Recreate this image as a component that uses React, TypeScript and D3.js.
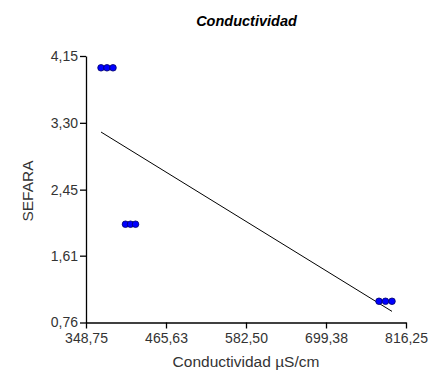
import * as d3 from 'd3';
import React, { useEffect, useRef } from 'react';

// Conductividad (µS/cm) vs SEFARA
const conductividad = [370.7, 379.4, 388.2, 406.4, 413.8, 421.1, 776.8, 786.3, 795.8];
const sefara = [4.0, 4.0, 4.0, 2.01, 2.01, 2.01, 1.03, 1.03, 1.03];

const xTicks = [348.75, 465.63, 582.5, 699.38, 816.25];
const yTicks = [0.76, 1.61, 2.45, 3.3, 4.15];

const width = 429;
const height = 382;

const App: React.FC = () => {
  const svgRef = useRef<SVGSVGElement>(null);

  useEffect(() => {
    if (!svgRef.current) return;
    d3.select(svgRef.current).selectAll('*').remove();

    const margin = { top: 56, right: 23, bottom: 59.5, left: 86 };
    const innerW = width - margin.left - margin.right;
    const innerH = height - margin.top - margin.bottom;

    const locale = d3.formatLocale({ decimal: ',', thousands: '.', grouping: [3], currency: ['', ''] });
    const fmt = locale.format('.2f');

    const svg = d3.select(svgRef.current)
      .attr('width', width)
      .attr('height', height)
      .style('font-family', '"Liberation Sans", Arial, sans-serif');

    const x = d3.scaleLinear().domain([xTicks[0], xTicks[xTicks.length - 1]]).range([0, innerW]);
    const y = d3.scaleLinear().domain([yTicks[0], yTicks[yTicks.length - 1]]).range([innerH, 0]);

    const g = svg.append('g').attr('transform', `translate(${margin.left},${margin.top})`);

    // Axes
    const xAxis = g.append('g')
      .attr('transform', `translate(0,${innerH})`)
      .call(d3.axisBottom(x).tickValues(xTicks).tickFormat(d => fmt(d as number)).tickSize(6).tickSizeOuter(0));
    const yAxis = g.append('g')
      .call(d3.axisLeft(y).tickValues(yTicks).tickFormat(d => fmt(d as number)).tickSize(6).tickSizeOuter(0));

    [xAxis, yAxis].forEach(a => {
      a.select('.domain').attr('stroke', '#000').attr('stroke-width', 1.3);
      a.selectAll('.tick line').attr('stroke', '#000').attr('stroke-width', 1.3);
      a.selectAll('.tick text')
        .attr('fill', '#333')
        .style('font-size', '14px')
        .style('font-family', '"Liberation Sans", Arial, sans-serif');
    });
    xAxis.selectAll('.tick text').attr('y', 11).attr('dy', '0.71em');
    yAxis.selectAll('.tick text').attr('x', -8);

    // Regression line (least squares)
    const mx = d3.mean(conductividad) as number;
    const my = d3.mean(sefara) as number;
    const sxy = d3.sum(conductividad, (v, i) => (v - mx) * (sefara[i] - my));
    const sxx = d3.sum(conductividad, v => (v - mx) * (v - mx));
    const slope = sxy / sxx;
    const intercept = my - slope * mx;
    const [x0, x1] = d3.extent(conductividad) as [number, number];

    g.append('line')
      .attr('x1', x(x0))
      .attr('y1', y(intercept + slope * x0))
      .attr('x2', x(x1))
      .attr('y2', y(intercept + slope * x1))
      .attr('stroke', '#000')
      .attr('stroke-width', 1);

    // Points
    g.selectAll('circle')
      .data(conductividad)
      .enter()
      .append('circle')
      .attr('cx', d => x(d))
      .attr('cy', (_, i) => y(sefara[i]))
      .attr('r', 3.3)
      .attr('fill', '#0000ff')
      .attr('stroke', '#000066')
      .attr('stroke-width', 0.8);

    // Title
    svg.append('text')
      .attr('x', 246.5)
      .attr('y', 26)
      .attr('text-anchor', 'middle')
      .style('font-size', '14.5px')
      .style('font-weight', 'bold')
      .style('font-style', 'italic')
      .attr('fill', '#000')
      .text('Conductividad');

    // Axis labels
    svg.append('text')
      .attr('x', margin.left + innerW / 2)
      .attr('y', 367)
      .attr('text-anchor', 'middle')
      .style('font-size', '15.5px')
      .attr('fill', '#333')
      .text('Conductividad µS/cm');

    svg.append('text')
      .attr('transform', `translate(33,${191}) rotate(-90)`)
      .attr('text-anchor', 'middle')
      .style('font-size', '15.5px')
      .attr('fill', '#333')
      .text('SEFARA');
  }, []);

  return (
    <div style={{ position: 'absolute', left: 0, top: 0 }}>
      <svg ref={svgRef} style={{ display: 'block' }} />
    </div>
  );
};

export default App;
